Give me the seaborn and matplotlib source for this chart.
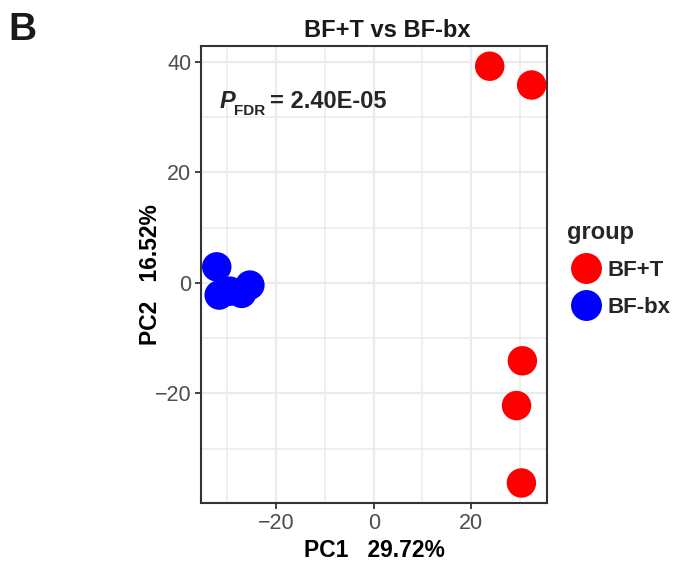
import matplotlib
matplotlib.use("Agg")
import matplotlib.pyplot as plt
import seaborn as sns
import pandas as pd
from matplotlib.ticker import MultipleLocator

pc1 = [23.8, 32.4, 30.5, 29.3, 30.3, -32.2, -31.7, -29.5, -27.1, -25.4]
pc2 = [39.2, 35.8, -14.1, -22.2, -36.2, 2.9, -2.2, -1.5, -1.9, -0.4]
group = ["BF+T"] * 5 + ["BF-bx"] * 5
palette = {"BF+T": "#FF0000", "BF-bx": "#0000FF"}
xticks = [-20, 0, 20]
yticks = [-20, 0, 20, 40]

df = pd.DataFrame({"PC1": pc1, "PC2": pc2, "group": group})

sns.set_theme(style="white")
plt.rcParams["font.family"] = ["Liberation Sans", "DejaVu Sans"]

fig = plt.figure(figsize=(6.75, 5.65), dpi=100)
ax = fig.add_axes([0.298, 0.110, 0.512, 0.809])

sns.scatterplot(data=df, x="PC1", y="PC2", hue="group", palette=palette,
                s=450, edgecolor="none", linewidth=0, ax=ax, zorder=3, legend=True)

ax.set_xlim(-35.4, 35.5)
ax.set_ylim(-39.8, 42.9)
ax.set_xticks(xticks)
ax.set_yticks(yticks)
ax.set_xticklabels(["\u221220", "0", "20"])
ax.set_yticklabels(["\u221220", "0", "20", "40"])
ax.xaxis.set_minor_locator(MultipleLocator(10))
ax.yaxis.set_minor_locator(MultipleLocator(10))
ax.grid(which="major", color="#EBEBEB", linewidth=1.6, zorder=0)
ax.grid(which="minor", color="#EBEBEB", linewidth=1.1, zorder=0)
ax.set_axisbelow(True)
for sp in ax.spines.values():
    sp.set_color("#333333")
    sp.set_linewidth(1.5)
ax.tick_params(axis="both", which="major", length=4, width=1.3, color="#333333",
               labelsize=15.5, labelcolor="#4D4D4D", pad=3, bottom=True, left=True)
ax.tick_params(axis="both", which="minor", length=0)

ax.set_xlabel("PC1   29.72%", fontsize=16.5, fontweight="bold", color="black", labelpad=4)
ax.set_ylabel("PC2   16.52%", fontsize=16.5, fontweight="bold", color="black", labelpad=-5)
ax.set_title("BF+T vs BF-bx", fontsize=17, fontweight="bold", color="#1a1a1a", pad=6,
             x=0.539)

# P_FDR annotation
ax.text(0.052, 0.864, "P", transform=ax.transAxes, fontsize=17, fontweight="bold",
        fontstyle="italic", va="baseline", ha="left")
ax.text(0.096, 0.848, "FDR", transform=ax.transAxes, fontsize=11, fontweight="bold",
        va="baseline", ha="left")
ax.text(0.200, 0.864, "= 2.40E-05", transform=ax.transAxes, fontsize=17, fontweight="bold",
        va="baseline", ha="left")

leg = ax.legend(title="group", loc="upper left", bbox_to_anchor=(1.042, 0.629),
                frameon=False, fontsize=16, title_fontproperties={"weight": "bold", "size": 17},
                handlelength=1.7, handletextpad=0.15, labelspacing=0.72, borderpad=0.25,
                borderaxespad=0, markerscale=1.05)
for t in leg.get_texts():
    t.set_fontweight("bold")
leg._legend_box.align = "left"

fig.text(0.012, 0.93, "B", fontsize=28, fontweight="bold", color="#1a1a1a")

fig.savefig("out.png", dpi=100, facecolor="white")
